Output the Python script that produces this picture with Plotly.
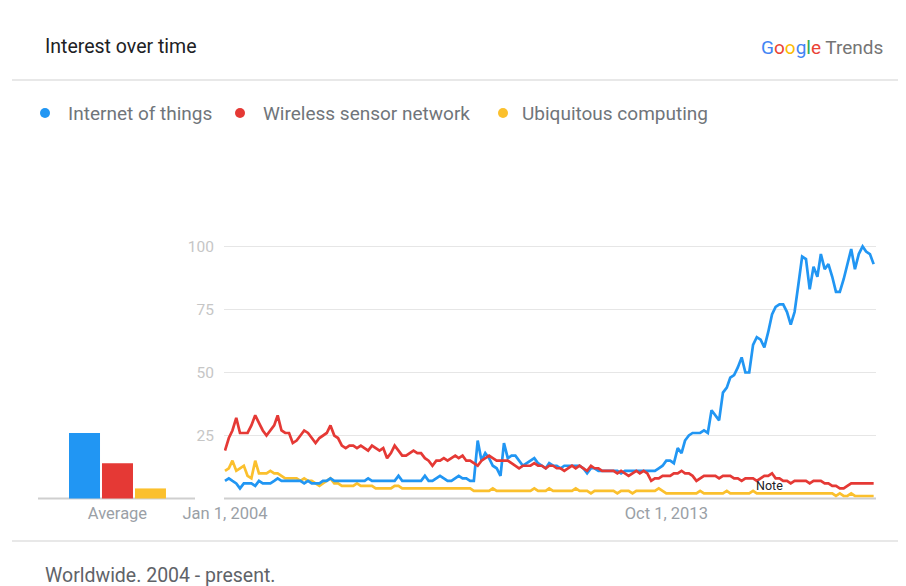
import pandas as pd
import plotly.graph_objects as go

# The page body has an 8px margin, so the figure is sized to fit inside the
# 906x586 window and positions are given in window pixels.
OFF = 8
W, H = 906 - OFF, 586 - OFF

series_names = ["Internet of things", "Wireless sensor network", "Ubiquitous computing"]
series_colors = ["#2196f3", "#e53935", "#fbc02d"]

months = pd.date_range("2004-01-01", periods=173, freq="MS")

iot = [
    7, 8, 7, 6, 4, 6, 6, 6, 5, 7, 6, 6,
    6, 7, 8, 7, 7, 7, 7, 7, 7, 6, 7, 6,
    6, 6, 7, 7, 8, 7, 7, 7, 7, 7, 7, 7,
    7, 7, 8, 7, 7, 7, 7, 7, 7, 7, 9, 7,
    7, 7, 7, 7, 7, 9, 7, 7, 8, 9, 8, 7,
    7, 8, 9, 8, 8, 7, 7, 23, 15, 18, 16, 13,
    12, 9, 22, 16, 17, 17, 15, 13, 14, 15, 16, 14,
    13, 12, 14, 13, 13, 12, 13, 13, 13, 13, 13, 12,
    10, 12, 12, 11, 11, 11, 11, 11, 11, 10, 11, 11,
    11, 11, 11, 11, 11, 11, 11, 12, 13, 15, 15, 14,
    20, 18, 23, 25, 26, 26, 26, 27, 26, 35, 33, 31,
    42, 44, 48, 49, 52, 56, 50, 50, 61, 64, 63, 60,
    66, 73, 76, 77, 77, 74, 69, 74, 85, 96, 95, 83,
    92, 88, 97, 91, 93, 88, 82, 82, 87, 93, 99, 91,
    97, 100, 98, 97, 93,
]

wsn = [
    19, 24, 27, 32, 26, 26, 26, 29, 33, 30, 27, 25,
    27, 29, 33, 27, 26, 26, 22, 23, 25, 27, 26, 24,
    22, 24, 25, 26, 29, 25, 24, 21, 20, 21, 21, 20,
    21, 20, 19, 21, 20, 19, 20, 16, 18, 21, 19, 17,
    17, 18, 19, 18, 18, 16, 15, 13, 15, 15, 16, 15,
    16, 17, 16, 17, 15, 15, 14, 13, 15, 16, 17, 16,
    15, 15, 15, 15, 14, 13, 12, 13, 13, 13, 14, 13,
    13, 12, 13, 13, 12, 12, 11, 12, 13, 12, 13, 12,
    11, 13, 12, 12, 11, 11, 11, 11, 10, 11, 10, 9,
    10, 11, 10, 11, 10, 7, 8, 8, 9, 9, 9, 10,
    10, 11, 10, 10, 9, 7, 8, 9, 9, 9, 9, 8,
    9, 9, 9, 8, 8, 7, 8, 8, 8, 7, 8, 9,
    9, 10, 8, 8, 7, 7, 6, 7, 7, 7, 7, 6,
    7, 7, 7, 6, 6, 5, 5, 4, 4, 5, 6, 6,
    6, 6, 6, 6, 6,
]

ubi = [
    11, 12, 15, 11, 12, 13, 9, 8, 15, 10, 10, 10,
    11, 10, 10, 9, 8, 8, 8, 8, 7, 8, 7, 7,
    6, 5, 6, 7, 8, 6, 6, 5, 5, 5, 5, 6,
    5, 5, 5, 5, 4, 4, 4, 4, 4, 5, 5, 4,
    4, 4, 4, 4, 4, 4, 4, 4, 4, 4, 4, 4,
    4, 4, 4, 4, 4, 4, 3, 3, 3, 3, 3, 4,
    3, 3, 3, 3, 3, 3, 3, 3, 3, 3, 4, 3,
    3, 3, 4, 3, 3, 3, 3, 3, 3, 4, 3, 3,
    3, 2, 3, 3, 3, 3, 3, 3, 2, 3, 3, 3,
    2, 3, 3, 3, 3, 3, 3, 4, 3, 2, 2, 2,
    2, 2, 2, 2, 2, 2, 3, 2, 2, 2, 2, 2,
    2, 3, 2, 2, 2, 2, 2, 2, 3, 2, 2, 2,
    2, 2, 2, 2, 2, 2, 2, 2, 2, 2, 2, 2,
    2, 2, 2, 2, 2, 2, 1, 2, 1, 1, 2, 1,
    1, 1, 1, 1, 1,
]

averages = [26, 14, 4]
y_ticks = [25, 50, 75, 100]
x_tick_dates = ["2004-01-01", "2013-10-01"]
x_tick_labels = ["Jan 1, 2004", "Oct 1, 2013"]


def px(x):
    return (x - OFF) / W


def py(y):
    return 1 - (y - OFF) / H


FONT = "Roboto, 'Noto Sans', sans-serif"

fig = go.Figure()

order = [(series_names[2], ubi, series_colors[2]),
         (series_names[0], iot, series_colors[0]),
         (series_names[1], wsn, series_colors[1])]
for name, vals, col in order:
    fig.add_trace(go.Scatter(
        x=months, y=vals, mode="lines", name=name,
        line=dict(color=col, width=2.7), xaxis="x", yaxis="y",
        showlegend=False, hoverinfo="skip",
    ))

fig.add_trace(go.Bar(
    x=[0, 1, 2], y=averages, marker=dict(color=series_colors, line=dict(width=0)),
    width=0.94, xaxis="x2", yaxis="y2", showlegend=False, hoverinfo="skip",
))

y_lo, y_hi = -1, 102
y_dom = [py(498.5 + 1 * 2.52), py(498.5 - 102 * 2.52)]

fig.update_layout(
    width=W, height=H, autosize=False,
    margin=dict(l=0, r=0, t=0, b=0, pad=0, autoexpand=False),
    paper_bgcolor="white", plot_bgcolor="rgba(0,0,0,0)",
    font=dict(family=FONT),
    showlegend=False,
    xaxis=dict(
        type="date", domain=[px(224), px(876)],
        range=["2003-12-24", "2018-05-20"],
        tickvals=x_tick_dates, ticktext=x_tick_labels,
        showgrid=False, zeroline=False, showline=False, ticks="",
        tickfont=dict(size=16.5, color="#9aa0a6", family=FONT),
        anchor="y", automargin=False,
    ),
    yaxis=dict(
        domain=y_dom, range=[y_lo, y_hi],
        tickvals=y_ticks, ticktext=[str(v) for v in y_ticks],
        showgrid=True, gridcolor="#e6e6e6", gridwidth=1,
        zeroline=False, showline=False, ticks="",
        tickfont=dict(size=15.5, color="#c6c6c6", family=FONT),
        ticklabelstandoff=9,
        anchor="x", automargin=False,
    ),
    xaxis2=dict(
        domain=[px(38), px(195)], range=[-1.41, 3.35],
        showgrid=False, zeroline=False, showline=False,
        tickvals=[1], ticktext=["Average"], ticks="",
        tickfont=dict(size=16.5, color="#9aa0a6", family=FONT),
        anchor="y2", automargin=False,
    ),
    yaxis2=dict(
        domain=y_dom, range=[y_lo, y_hi],
        showgrid=False, zeroline=False, showline=False,
        showticklabels=False, anchor="x2", automargin=False,
    ),
)

shapes = []
shapes.append(dict(type="line", xref="paper", yref="paper",
                   x0=px(12), x1=px(906), y0=py(80), y1=py(80),
                   line=dict(color="#e0e0e0", width=1.5)))
shapes.append(dict(type="line", xref="paper", yref="paper",
                   x0=px(12), x1=px(906), y0=py(541), y1=py(541),
                   line=dict(color="#e0e0e0", width=1.5)))
shapes.append(dict(type="line", xref="paper", yref="y",
                   x0=px(224), x1=px(876), y0=0, y1=0,
                   line=dict(color="#cfcfcf", width=2), layer="below"))
shapes.append(dict(type="line", xref="paper", yref="y2",
                   x0=px(38), x1=px(195), y0=0, y1=0,
                   line=dict(color="#cfcfcf", width=2), layer="below"))
legend_dot_x = [45, 240, 503]
legend_text_x = [66, 261, 520]
for lx, col in zip(legend_dot_x, series_colors):
    shapes.append(dict(type="circle", xref="paper", yref="paper",
                       x0=px(lx - 5), x1=px(lx + 5), y0=py(118), y1=py(108),
                       fillcolor=col, line=dict(width=0)))
fig.update_layout(shapes=shapes)

annotations = [
    dict(text="Interest over time", x=px(43), y=py(46), xref="paper", yref="paper",
         xanchor="left", yanchor="middle", showarrow=False,
         font=dict(size=19.5, color="#202124", family=FONT)),
    dict(text=("<span style='color:#4285f4'>G</span><span style='color:#ea4335'>o</span>"
               "<span style='color:#fbbc05'>o</span><span style='color:#4285f4'>g</span>"
               "<span style='color:#34a853'>l</span><span style='color:#ea4335'>e</span>"
               " <span style='color:#757575'>Trends</span>"),
         x=px(885), y=py(47), xref="paper", yref="paper",
         xanchor="right", yanchor="middle", showarrow=False,
         font=dict(size=19, family=FONT)),
    dict(text="Worldwide. 2004 - present.", x=px(43), y=py(575), xref="paper", yref="paper",
         xanchor="left", yanchor="middle", showarrow=False,
         font=dict(size=19.5, color="#5f6368", family=FONT)),
    dict(text="Note", x="2016-01-10", y=5, xref="x", yref="y",
         xanchor="center", yanchor="middle", showarrow=False,
         font=dict(size=12.5, color="#202124", family=FONT)),
]
for lx, name in zip(legend_text_x, series_names):
    annotations.append(dict(text=name, x=px(lx), y=py(113), xref="paper", yref="paper",
                            xanchor="left", yanchor="middle", showarrow=False,
                            font=dict(size=19, color="#70757a", family=FONT)))
fig.update_layout(annotations=annotations)

fig.write_html("out.html")
